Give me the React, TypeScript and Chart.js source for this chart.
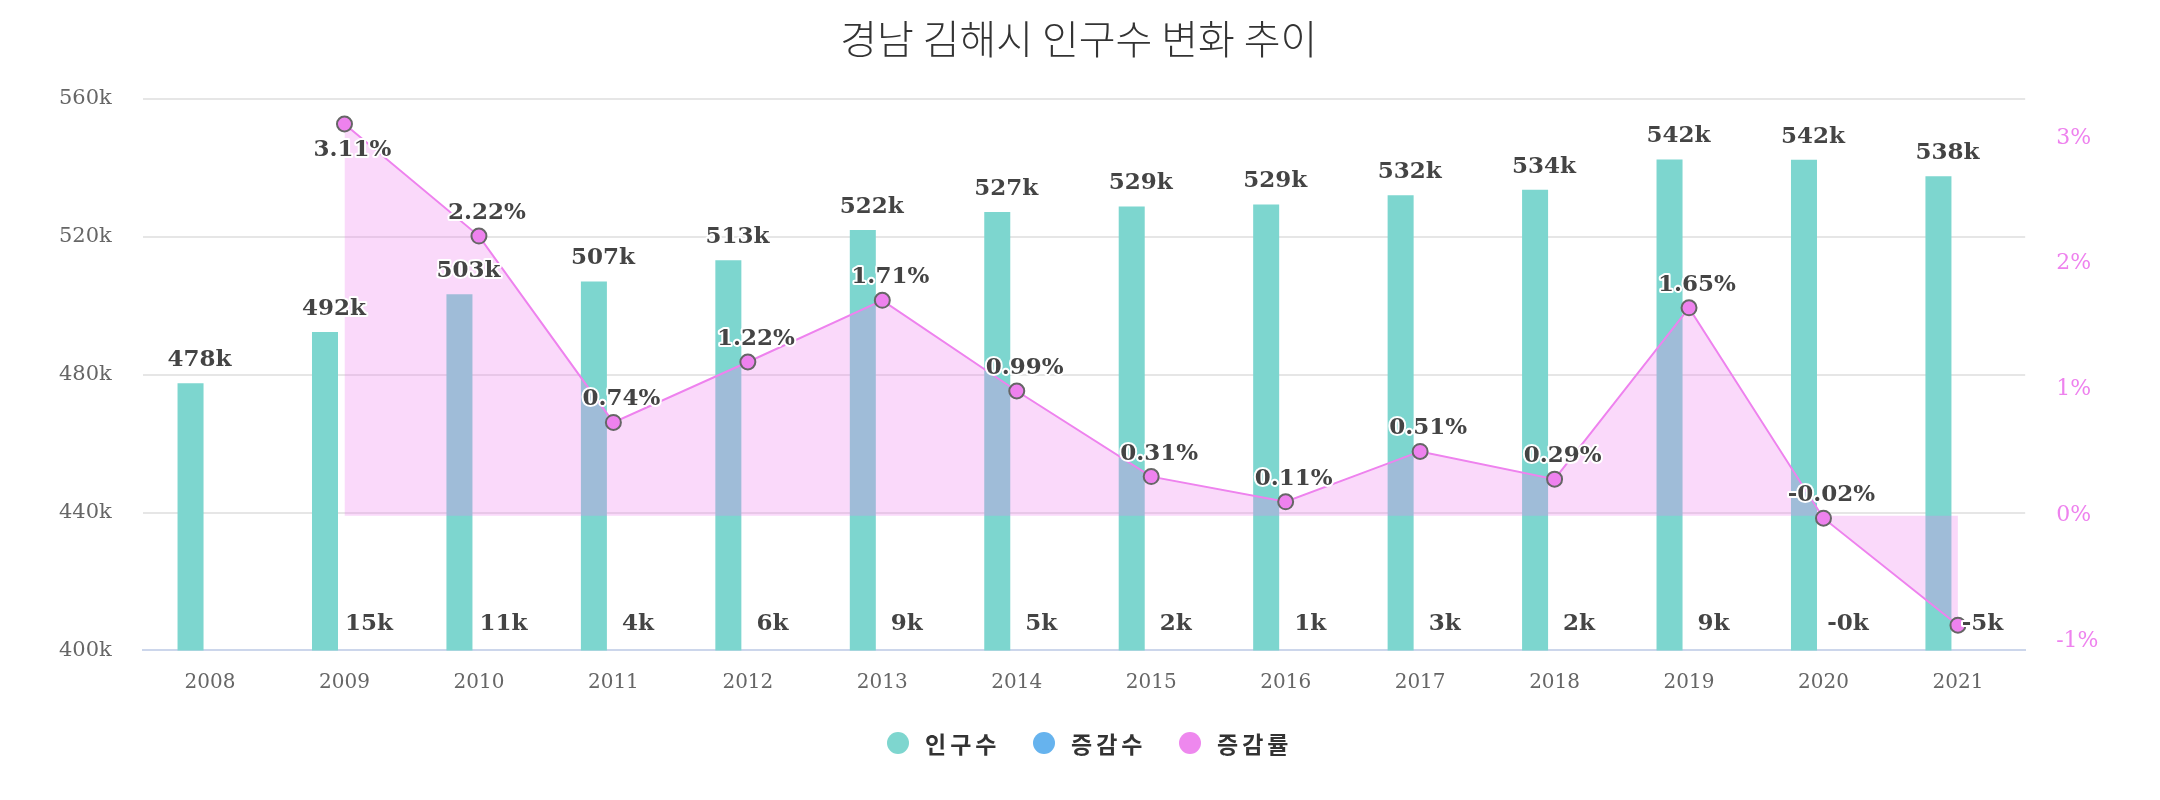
import React, { useEffect, useRef } from 'react';
import { Chart, registerables } from 'chart.js';

Chart.register(...registerables);

const TITLE = '경남 김해시 인구수 변화 추이';
const years = ['2008', '2009', '2010', '2011', '2012', '2013', '2014', '2015', '2016', '2017', '2018', '2019', '2020', '2021'];
const population = [477500, 492350, 503280, 507004, 513190, 521966, 527133, 528767, 529349, 532049, 533592, 542396, 542287, 537570];
const change = [null, 14850, 10930, 3724, 6185, 8776, 5167, 1634, 582, 2700, 1543, 8804, -109, -4717];
const rate = [null, 3.11, 2.22, 0.74, 1.22, 1.71, 0.99, 0.31, 0.11, 0.51, 0.29, 1.65, -0.02, -0.87];
const seriesNames = ['인구수', '증감수', '증감률'];
const leftTicks = [400000, 440000, 480000, 520000, 560000];
const rightTicks = [-1, 0, 1, 2, 3];

const COLORS = ['#7ed6cf', '#66b3ee', '#ee88ee'];
const fmtK = (v: number) => (v / 1000).toFixed(0) + 'k';
const fmtPct = (v: number) => v.toFixed(2) + '%';

const labelPlugin = {
  id: 'valueLabels',
  afterDatasetsDraw(chart: any) {
    const ctx = chart.ctx;
    const area = chart.chartArea;
    ctx.save();
    ctx.font = 'bold 23px "DejaVu Serif"';
    ctx.textAlign = 'center';
    ctx.textBaseline = 'middle';
    ctx.lineJoin = 'round';
    const boxes: any[] = [];
    const h = 23 * 1.2 + 8;
    const place = (text: string, x: number, y: number, check: boolean) => {
      const w = ctx.measureText(text).width + 8;
      const box = { l: x - w / 2, r: x + w / 2, t: y - h / 2, b: y + h / 2 };
      if (check && boxes.some((b) => box.l < b.r && box.r > b.l && box.t < b.b && box.b > b.t)) return;
      boxes.push(box);
      ctx.lineWidth = 4;
      ctx.strokeStyle = '#ffffff';
      ctx.strokeText(text, x, y);
      ctx.fillStyle = '#444444';
      ctx.fillText(text, x, y);
    };
    const m0 = chart.getDatasetMeta(0);
    m0.data.forEach((el: any, i: number) => {
      const v = population[i];
      if (v == null) return;
      place(fmtK(v), el.x + 9, el.y - 23, false);
    });
    const m1 = chart.getDatasetMeta(1);
    m1.data.forEach((el: any, i: number) => {
      const v = change[i];
      if (v == null) return;
      place(fmtK(v), el.x + 5, area.bottom - 26, false);
    });
    const m2 = chart.getDatasetMeta(2);
    m2.data.forEach((el: any, i: number) => {
      const v = rate[i];
      if (v == null) return;
      let y = el.y - 23;
      if (y - 11 < area.top) y = el.y + 26;
      place(fmtPct(v), el.x + 8, y, true);
    });
    ctx.restore();
  },
  afterDraw(chart: any) {
    const ctx = chart.ctx;
    ctx.save();
    ctx.font = 'bold 23px "Noto Sans CJK KR"';
    ctx.textBaseline = 'middle';
    ctx.textAlign = 'left';
    try {
      (ctx as any).letterSpacing = '4px';
    } catch (e) {}
    const r = 11;
    const cx0 = chart.width / 2 - 182;
    const step = 146;
    const y = chart.height - 49;
    seriesNames.forEach((n, i) => {
      const cx = cx0 + step * i;
      ctx.fillStyle = COLORS[i];
      ctx.beginPath();
      ctx.arc(cx, y, r, 0, Math.PI * 2);
      ctx.fill();
      ctx.fillStyle = '#333333';
      ctx.fillText(n, cx + 27, y + 1);
    });
    ctx.restore();
  },
};

export default function App() {
  const ref = useRef<HTMLCanvasElement | null>(null);
  useEffect(() => {
    if (!ref.current) return;
    Chart.defaults.font.family = '"DejaVu Serif"';
    const chart = new Chart(ref.current, {
      type: 'bar',
      data: {
        labels: years,
        datasets: [
          {
            type: 'bar',
            label: seriesNames[0],
            data: population,
            backgroundColor: '#7dd6cf',
            yAxisID: 'y',
            categoryPercentage: 0.58,
            barPercentage: 0.667,
            order: 1,
          },
          {
            type: 'bar',
            label: seriesNames[1],
            data: change,
            backgroundColor: '#66b3ee',
            yAxisID: 'y',
            categoryPercentage: 0.58,
            barPercentage: 0.667,
            order: 1,
          },
          {
            type: 'line',
            label: seriesNames[2],
            data: rate,
            yAxisID: 'y1',
            borderColor: '#ee82ee',
            borderWidth: 2,
            backgroundColor: 'rgba(238,130,238,0.3)',
            fill: 'origin',
            tension: 0,
            pointRadius: 7.5,
            pointBackgroundColor: '#ee82ee',
            pointBorderColor: '#666666',
            pointBorderWidth: 2,
            order: 0,
          },
        ] as any,
      },
      options: {
        animation: false,
        responsive: true,
        maintainAspectRatio: false,
        layout: { padding: { left: 20, right: 22.5, top: 0, bottom: 85 } },
        plugins: {
          legend: { display: false },
          tooltip: { enabled: false },
          title: {
            display: true,
            text: TITLE,
            color: '#333333',
            font: { family: '"Noto Sans CJK KR"', size: 40, weight: '300' as any },
            padding: { top: 6.5, bottom: 36.3 },
          },
        },
        scales: {
          x: {
            offset: true,
            grid: { display: false },
            border: { display: true, color: '#ccd6eb', width: 2 },
            ticks: { color: '#666666', font: { size: 20 }, padding: 12.3, maxRotation: 0 },
          },
          y: {
            position: 'left',
            min: leftTicks[0],
            max: leftTicks[leftTicks.length - 1],
            afterBuildTicks: (axis: any) => {
              axis.ticks = leftTicks.map((v) => ({ value: v }));
            },
            grid: {
              color: (c: any) => (c.tick && c.tick.value === leftTicks[0] ? 'rgba(0,0,0,0)' : '#e6e6e6'),
              lineWidth: 2,
              drawTicks: false,
            },
            border: { display: false },
            ticks: {
              color: '#666666',
              font: { size: 21 },
              padding: 31,
              callback: (v: any) => fmtK(Number(v)),
            },
          },
          y1: {
            position: 'right',
            min: -1.07,
            max: 3.31,
            afterBuildTicks: (axis: any) => {
              axis.ticks = rightTicks.map((v) => ({ value: v }));
            },
            grid: { display: false, drawTicks: false },
            border: { display: false },
            ticks: {
              color: '#ee82ee',
              font: { size: 22 },
              padding: 31,
              callback: (v: any) => Number(v) + '%',
            },
          },
        },
      },
      plugins: [labelPlugin],
    });
    return () => chart.destroy();
  }, []);
  return (
    <div style={{ position: 'relative', width: '100%', height: '784px' }}>
      <canvas ref={ref} />
    </div>
  );
}
